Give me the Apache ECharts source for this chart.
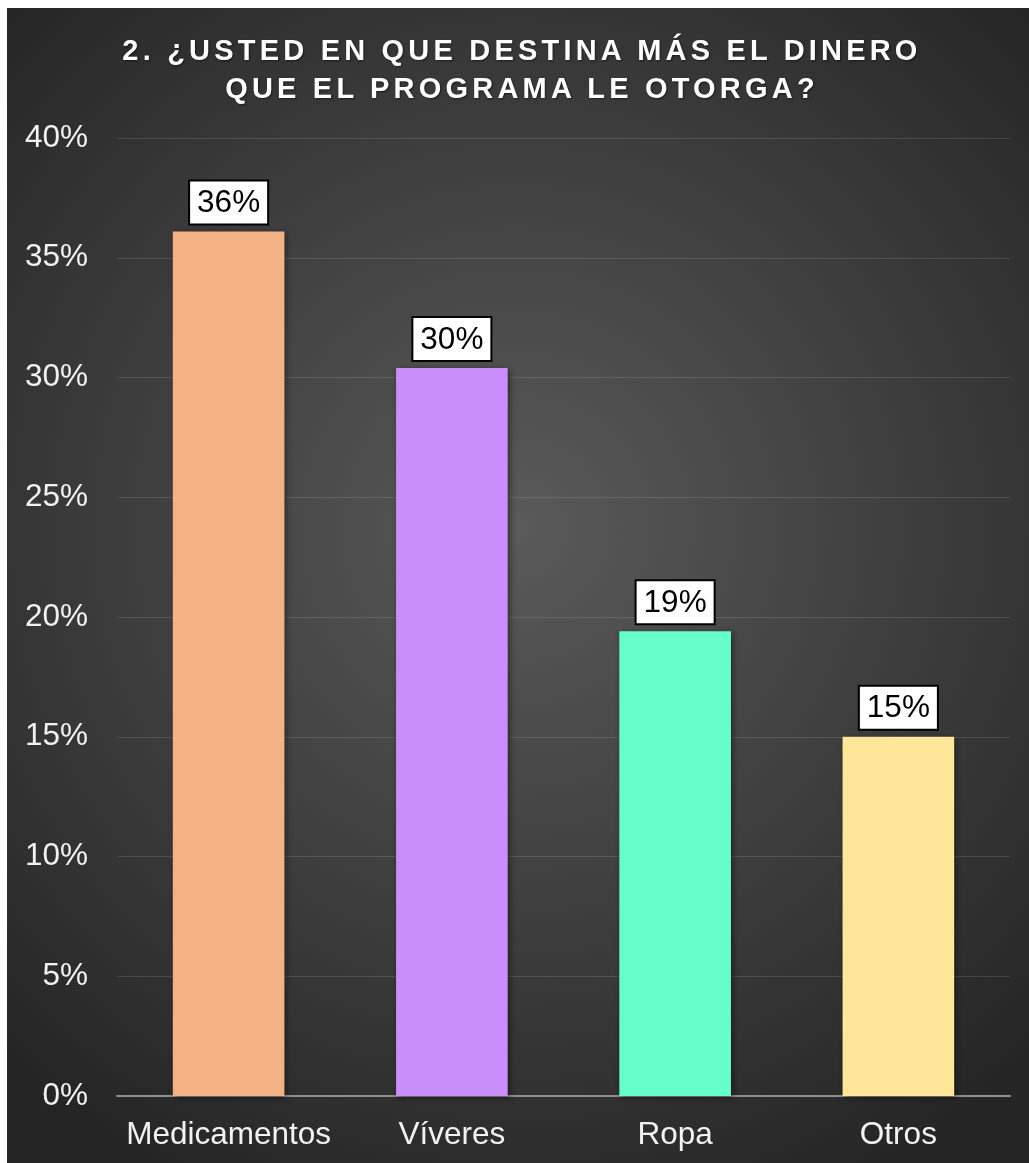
<!DOCTYPE html>
<html>
<head>
<meta charset="utf-8">
<script src="https://cdn.jsdelivr.net/npm/echarts@6/dist/echarts.min.js"></script>
<style>
  body { margin: 0; background: #ffffff; }
  #wrap { position: absolute; left: 7px; top: 8px; width: 1022px; height: 1155px; }
  #myChart { width: 1022px; height: 1155px; }
  .titulo {
    position: absolute; left: 4px; top: 23px; width: 1022px;
    text-align: center; color: #ffffff;
    font-family: "Liberation Sans", Arial, sans-serif;
    font-weight: bold; font-size: 29px; line-height: 38px;
    letter-spacing: 4.2px;
    text-shadow: 1px 1px 2px rgba(0,0,0,0.5);
  }
</style>
</head>
<body>
<div id="wrap">
  <div id="myChart"></div>
  <div class="titulo">2. ¿USTED EN QUE DESTINA MÁS EL DINERO<br>QUE EL PROGRAMA LE OTORGA?</div>
</div>
<script>
// datos
const categorias = ['Medicamentos', 'Víveres', 'Ropa', 'Otros']
const valores = [36.1, 30.4, 19.4, 15.0]
const colores = ['#F4B183', '#CA8EFA', '#66FFCC', '#FFE699']
const ticksY = [0, 5, 10, 15, 20, 25, 30, 35, 40]

const fuente = '"Liberation Sans", Arial, sans-serif'

let options = {
  backgroundColor: {
    type: 'radial', x: 0.5, y: 0.45, r: 0.72,
    colorStops: [
      { offset: 0, color: '#5a5a5a' },
      { offset: 1, color: '#252525' }
    ]
  },
  grid: { left: 110, right: 19, top: 130, bottom: 67, containLabel: false },
  xAxis: {
    type: 'category',
    data: categorias,
    axisTick: { show: false },
    axisLine: { lineStyle: { color: '#8f8f8f', width: 2 } },
    axisLabel: { color: '#f2f2f2', fontSize: 31.5, fontFamily: fuente, margin: 23, interval: 0 }
  },
  yAxis: {
    type: 'value',
    min: ticksY[0],
    max: ticksY[ticksY.length - 1],
    interval: 5,
    axisLine: { show: false },
    axisTick: { show: false },
    splitLine: { lineStyle: { color: 'rgba(255,255,255,0.12)', width: 1 } },
    axisLabel: {
      color: '#f2f2f2', fontSize: 31.5, fontFamily: fuente, margin: 29,
      formatter: (v) => v + '%'
    }
  },
  series: [{
    type: 'bar',
    barWidth: '50%',
    data: valores.map((v, i) => ({
      value: v,
      itemStyle: { color: colores[i] }
    })),
    itemStyle: {
      shadowBlur: 6, shadowColor: 'rgba(0,0,0,0.45)', shadowOffsetX: 2, shadowOffsetY: 2
    },
    label: {
      show: true,
      position: 'top',
      distance: 8,
      formatter: (p) => Math.round(p.value) + '%',
      color: '#000000',
      fontSize: 31.5,
      fontFamily: fuente,
      backgroundColor: '#ffffff',
      borderColor: '#000000',
      borderWidth: 2,
      padding: [6, 7, 4, 7]
    }
  }]
}

let echart = echarts.init(document.getElementById('myChart'))
echart.setOption(options)
</script>
</body>
</html>
